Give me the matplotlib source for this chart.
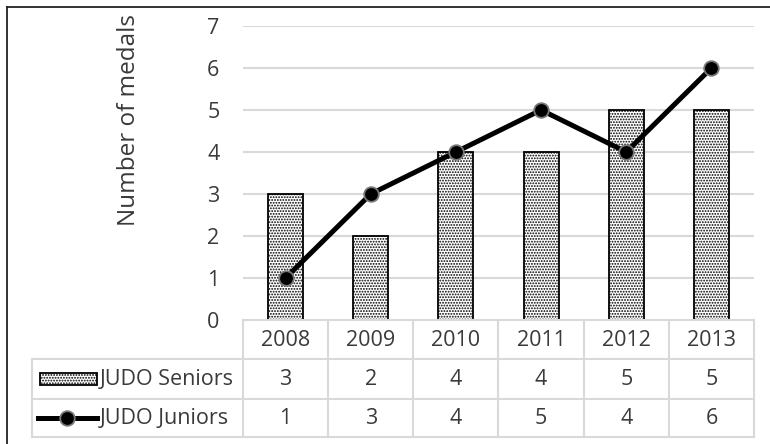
import matplotlib.pyplot as plt
import matplotlib.transforms as mtransforms
from matplotlib.lines import Line2D
from matplotlib.patches import Rectangle
import numpy as np

plt.rcParams['font.family'] = ['Open Sans', 'DejaVu Sans']
plt.rcParams['hatch.color'] = '#444444'
plt.rcParams['hatch.linewidth'] = 0.9

# Daten
years = ['2008', '2009', '2010', '2011', '2012', '2013']
seniors = [3, 2, 4, 4, 5, 5]
juniors = [1, 3, 4, 5, 4, 6]
series_names = ['JUDO Seniors', 'JUDO Juniors']

W, H = 770, 444
fig = plt.figure(figsize=(W / 100, H / 100), dpi=100)

def fx(px):
    return px / W

def fy(py):
    return 1 - py / H

# Plotbereich
ax_l, ax_r, ax_t, ax_b = 243, 754, 26, 320
ax = fig.add_axes([fx(ax_l), fy(ax_b), fx(ax_r - ax_l), fy(ax_t) - fy(ax_b)])
x = np.arange(len(years))
ax.set_xlim(-0.5, len(years) - 0.5)
ax.set_ylim(0, 7)

grid_col = '#d9d9d9'
text_col = '#3a3a3a'
fs = 15.5
for v in range(1, 8):
    ax.axhline(v, color=grid_col, lw=1.5, zorder=0)

ax.bar(x, seniors, width=0.41, facecolor='white', edgecolor='black', lw=1.3,
       hatch='......', zorder=2)
ax.plot(x, juniors, color='black', lw=3.6, marker='o', markersize=10.5,
        markerfacecolor='black', markeredgecolor='#777777', markeredgewidth=1.3,
        zorder=3)

for s in ax.spines.values():
    s.set_visible(False)
ax.set_xticks([])
ax.set_yticks(range(0, 8))
ax.tick_params(axis='y', length=0, pad=17, labelsize=fs, labelcolor=text_col)
ax.set_ylabel('Number of medals', fontsize=17.5, color=text_col)
ax.yaxis.set_label_coords(-0.20, 0.68)

# Datentabelle unter der Achse
row_lines = [320, 359, 399, 437]
tab_left = 32
col_trans = mtransforms.blended_transform_factory(ax.transData, fig.transFigure)
fig.add_artist(Line2D([fx(ax_l), fx(ax_r)], [fy(320), fy(320)], color=grid_col, lw=1.5))
for y in row_lines[1:]:
    fig.add_artist(Line2D([fx(tab_left), fx(ax_r)], [fy(y), fy(y)], color=grid_col, lw=1.5))
for i in range(len(years) + 1):
    ax.add_line(Line2D([i - 0.5, i - 0.5], [fy(320), fy(437)], transform=col_trans,
                       color=grid_col, lw=1.5, clip_on=False))
fig.add_artist(Line2D([fx(tab_left), fx(tab_left)], [fy(359), fy(437)], color=grid_col, lw=1.5))

for i, yr in enumerate(years):
    ax.text(i, fy(340), yr, transform=col_trans, ha='center', va='center',
            fontsize=fs, color=text_col)
    ax.text(i, fy(379), str(seniors[i]), transform=col_trans, ha='center', va='center',
            fontsize=fs, color=text_col)
    ax.text(i, fy(418), str(juniors[i]), transform=col_trans, ha='center', va='center',
            fontsize=fs, color=text_col)

# Legendenschluessel in der Tabelle
fig.add_artist(Rectangle((fx(40), fy(385)), fx(57), fy(373) - fy(385), facecolor='white',
                         edgecolor='black', lw=1.3, hatch='......'))
fig.add_artist(Line2D([fx(38), fx(97)], [fy(418), fy(418)], color='black', lw=3.6))
fig.add_artist(Line2D([fx(67)], [fy(418)], marker='o', markersize=10.5, color='black',
                      markerfacecolor='black', markeredgecolor='#777777', markeredgewidth=1.3))
fig.text(fx(100), fy(379), series_names[0], ha='left', va='center', fontsize=fs, color=text_col)
fig.text(fx(100), fy(418), series_names[1], ha='left', va='center', fontsize=fs, color=text_col)

# Rahmen oben und links
fig.add_artist(Line2D([fx(7), 1], [fy(7), fy(7)], color='#222222', lw=1.3))
fig.add_artist(Line2D([fx(7), fx(7)], [fy(7), 0], color='#222222', lw=1.3))

fig.savefig('out.png', dpi=100)
